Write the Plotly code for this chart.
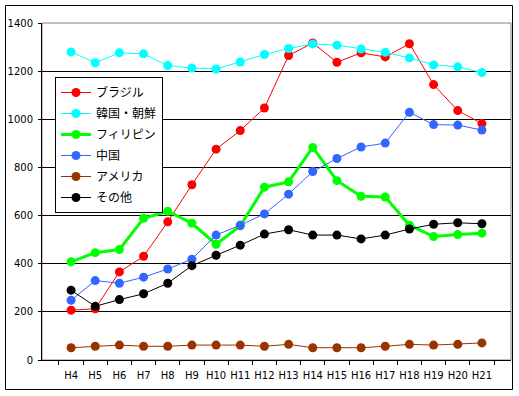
import plotly.graph_objects as go

categories = ["H4", "H5", "H6", "H7", "H8", "H9", "H10", "H11", "H12", "H13",
              "H14", "H15", "H16", "H17", "H18", "H19", "H20", "H21"]

brazil = [207, 213, 366, 431, 574, 728, 876, 953, 1047, 1265, 1317, 1237, 1276, 1259, 1314, 1144, 1036, 982]
korea = [1280, 1235, 1276, 1272, 1223, 1213, 1209, 1238, 1269, 1294, 1313, 1308, 1292, 1278, 1255, 1226, 1218, 1194]
philippines = [408, 446, 459, 589, 618, 568, 481, 557, 718, 740, 883, 745, 680, 677, 560, 513, 521, 527]
china = [248, 330, 319, 344, 378, 419, 519, 560, 607, 689, 783, 837, 885, 901, 1029, 978, 976, 955]
america = [51, 57, 62, 57, 57, 62, 62, 62, 57, 65, 51, 51, 51, 57, 65, 62, 65, 71]
other = [290, 223, 251, 275, 319, 392, 435, 477, 523, 541, 519, 519, 503, 519, 544, 564, 570, 566]

series_names = ["ブラジル", "韓国・朝鮮", "フィリピン", "中国", "アメリカ", "その他"]
series_values = [brazil, korea, philippines, china, america, other]
series_colors = ["#FF0000", "#00FFFF", "#00FF00", "#3366FF", "#993300", "#000000"]
series_widths = [1, 1, 3, 1, 1, 1]

fig = go.Figure()
for i, (name, vals, col, w) in enumerate(zip(series_names, series_values, series_colors, series_widths)):
    fig.add_trace(go.Scatter(
        x=categories, y=vals, name=name, mode="lines+markers",
        legendgroup="g%d" % i,
        line=dict(color=col, width=w),
        marker=dict(color=col, size=9, symbol="circle"),
    ))

W, H = 519, 396
L, R, T, B = 42, 8, 23, 36
pw, ph = W - L - R, H - T - B

def px_x(x):
    return (x - L) / pw

def px_y(y):
    return (H - B - y) / ph

fig.update_layout(
    width=W, height=H,
    margin=dict(l=L, r=R, t=T, b=B),
    paper_bgcolor="white", plot_bgcolor="white",
    font=dict(family="Noto Sans CJK JP, DejaVu Sans", size=10, color="black"),
    showlegend=True,
    legend=dict(
        x=px_x(55), y=px_y(77), xanchor="left", yanchor="top",
        bgcolor="white", bordercolor="black", borderwidth=1,
        font=dict(family="Noto Sans CJK JP", size=12, color="black"),
        itemwidth=30, tracegroupgap=2,
    ),
    xaxis=dict(
        type="category", showgrid=False, showline=True, linecolor="black", linewidth=1,
        ticks="outside", tickson="boundaries", ticklen=4, tickcolor="black",
        tickfont=dict(family="DejaVu Sans", size=10), tickangle=0, ticklabelstandoff=6,
        zeroline=False, fixedrange=True,
    ),
    yaxis=dict(
        range=[0, 1400], dtick=200, showgrid=True, gridcolor="black", gridwidth=1,
        showline=True, linecolor="black", linewidth=1, ticks="outside", ticklen=3,
        tickcolor="black", tickfont=dict(family="DejaVu Sans", size=10),
        ticklabelstandoff=3, zeroline=False,
    ),
    shapes=[
        dict(type="rect", xref="paper", yref="paper", x0=0, x1=1, y0=0, y1=1,
             line=dict(color="#808080", width=1), layer="below"),
        dict(type="rect", xref="paper", yref="paper",
             x0=px_x(5.5), x1=px_x(512.5), y0=px_y(389.5), y1=px_y(5.5),
             line=dict(color="black", width=1), layer="below"),
    ],
)

fig.write_html("out.html", config={"displayModeBar": False},
               post_script="document.body.style.margin='0px';document.body.style.overflow='hidden';")
